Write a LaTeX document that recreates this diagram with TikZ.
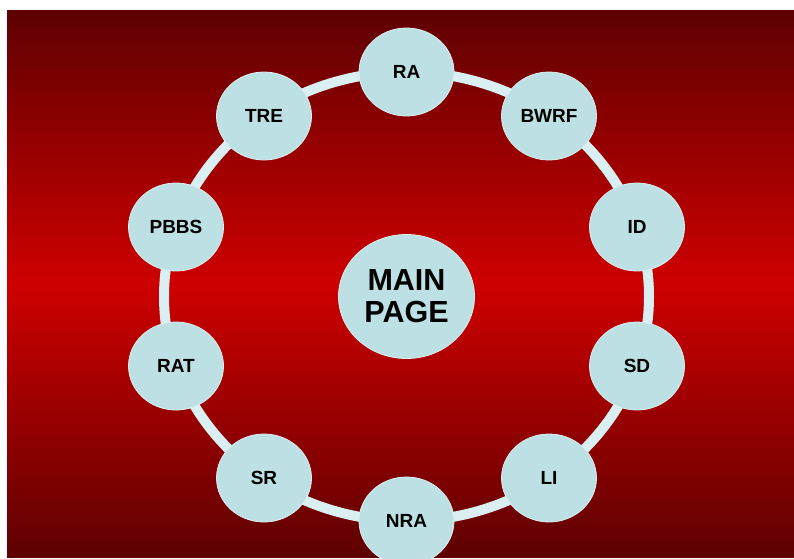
\documentclass[tikz,border=0pt]{standalone}
\usepackage{fontspec}
\setmainfont{Liberation Sans}
\usetikzlibrary{shapes.geometric}
\definecolor{bgdark}{RGB}{94,0,0}
\definecolor{bgbright}{RGB}{206,0,0}
\definecolor{nodefill}{RGB}{189,224,228}
\definecolor{ringcol}{RGB}{218,239,242}
\tikzset{
  bubble/.style={ellipse, fill=nodefill, draw=ringcol, line width=0.8pt,
    minimum width=95pt, minimum height=88pt, inner sep=0pt,
    font=\fontsize{19}{22}\selectfont\bfseries, text=black},
  hub/.style={ellipse, fill=nodefill, draw=ringcol, line width=0.8pt,
    minimum width=136pt, minimum height=124pt, inner sep=0pt, align=center,
    font=\fontsize{30.5}{32}\selectfont\bfseries, text=black},
  ring/.style={draw=ringcol, line width=10pt}
}
\begin{document}
\begin{tikzpicture}[x=1pt,y=-1pt]
\useasboundingbox (0,0) rectangle (794,558);
\fill[white] (0,0) rectangle (794,558);
\foreach \i in {0,...,109}{
  \pgfmathsetmacro\p{abs((\i+0.5)/110-0.5)*200}
  \pgfmathsetmacro\ya{10+\i*4.98182}
  \pgfmathsetmacro\yb{min(558,10+(\i+1)*4.98182+0.6)}
  \fill[bgdark!\p!bgbright] (7,\ya) rectangle (794,\yb);
}
\coordinate (c) at (406.5,296.5);
\draw[ring] (c) ellipse [x radius=242.5, y radius=224.5];
\node[hub] (main) at (c) {MAIN\\PAGE};
\node[bubble] (ra)   at (406.5,72)  {RA};
\node[bubble] (bwrf) at (549,116)   {BWRF};
\node[bubble] (id)   at (637,227)   {ID};
\node[bubble] (sd)   at (637,366)   {SD};
\node[bubble] (li)   at (549,478)   {LI};
\node[bubble] (nra)  at (406.5,521) {NRA};
\node[bubble] (sr)   at (264,478)   {SR};
\node[bubble] (rat)  at (176,366)   {RAT};
\node[bubble] (pbbs) at (176,227)   {PBBS};
\node[bubble] (tre)  at (264,116)   {TRE};
\end{tikzpicture}
\end{document}
